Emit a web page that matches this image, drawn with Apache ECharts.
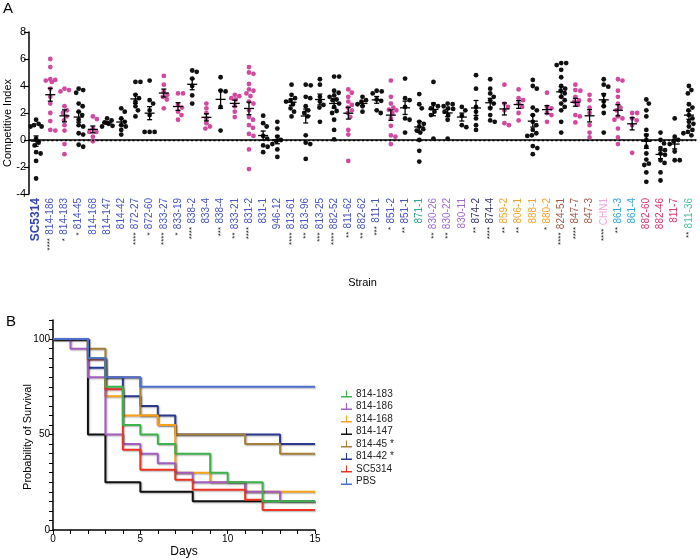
<!DOCTYPE html>
<html>
<head>
<meta charset="utf-8">
<script src="https://cdn.jsdelivr.net/npm/echarts@6/dist/echarts.min.js"></script>
<style>html,body{margin:0;padding:0;background:#fff}#c{width:700px;height:560px}</style>
</head>
<body>
<div id="c"></div>
<script>
// ---------- Panel A data ----------
const categories = ['SC5314','814-186','814-183','814-45','814-168','814-147','814-42','872-27','872-60','833-27','833-19','838-2','833-4','838-4','833-21','831-2','831-1','946-12','813-61','813-96','813-25','882-52','811-62','882-62','811-1','851-2','851-1','871-1','830-26','830-22','830-11','874-2','874-4','859-2','806-1','888-1','880-2','824-51','847-7','847-3','CHN1','861-3','861-4','882-60','882-46','811-7','811-36'];
const significance = ['','****','*','*','','','','****','*','****','*','****','','***','**','****','','','****','**','***','****','**','**','***','*','**','','**','**','','**','****','**','**','','*','****','****','','****','**','','','','','**'];
const labelGroup = ['ref','g1','g1','g1','g1','g1','g1','g1','g1','g1','g1','g1','g1','g1','g1','g1','g1','g1','g1','g1','g1','g1','g1','g1','g1','g1','g1','g2','g3','g3','g3','g4','g4','g5','g5','g5','g5','g6','g6','g6','g7','g8','g8','g9','g9','g9','g10'];
const dotGroup = ['k','m','m','k','m','k','k','k','k','m','m','k','m','k','m','m','k','k','k','k','k','k','m','k','k','m','k','k','k','k','k','k','k','m','m','k','m','k','m','m','k','m','m','k','k','k','k'];
const ciValues = [
 [1.5,1.2,1.1,1.0,1.0,0.1,-0.2,-0.4,-0.9,-1.0,-1.55,-2.85],
 [6.0,5.4,4.5,4.45,4.4,4.3,3.8,3.2,2.7,2.0,1.4,0.75,0.7],
 [3.8,3.7,3.6,2.5,2.2,2.0,1.75,1.45,1.1,0.7,-0.3,-1.05],
 [3.8,3.7,3.5,2.7,2.5,2.1,1.85,1.5,1.1,1.0,0.5,0.4,-0.35,-0.5],
 [1.75,1.55,0.85,0.6,0.6,0.25,-0.1],
 [1.6,1.45,1.3,1.2,1.05,1.0],
 [2.35,2.1,1.6,1.35,1.1,1.0,0.75,0.4],
 [4.3,4.3,3.35,3.1,2.85,2.5,2.2,1.75],
 [4.4,2.95,2.7,2.2,1.85,0.6,0.6,0.6],
 [4.75,4.1,3.6,3.35,3.2,3.0,2.35],
 [3.45,3.45,2.6,2.4,2.1,1.85,1.5],
 [5.15,5.05,4.55,4.0,3.3,2.7],
 [2.7,2.35,2.0,1.6,1.25,1.0,0.85],
 [4.65,3.65,3.6,2.45,0.7],
 [3.35,3.25,3.1,3.0,2.5,2.1,1.7],
 [5.4,5.0,4.9,4.15,3.75,3.65,3.45,3.25,2.85,2.7,2.2,1.7,1.5,1.1,0.9,0.45,0.3,-0.7,-2.15],
 [1.8,1.25,1.0,0.3,0.1,-0.4,-0.5,-0.9],
 [1.35,0.85,0.25,0.0,-0.1,-0.3,-0.7,-1.25],
 [4.1,3.35,3.1,2.95,2.85,2.65,2.35,2.1,1.75],
 [4.1,4.05,3.2,3.1,2.5,2.2,2.0,1.75,0.35,-0.2,-0.3,-1.4],
 [4.5,4.1,3.2,2.85,2.6,2.4,1.35],
 [4.7,4.7,3.65,3.5,3.3,3.2,3.0,2.95,2.7,2.45,2.15,2.0,1.5,0.75,0.05],
 [3.75,3.5,3.2,2.85,2.6,2.4,2.2,2.0,1.7,0.75,0.4,-1.55],
 [3.2,2.95,2.85,2.65,2.5,2.1],
 [3.65,3.6,3.45,3.0,2.9,2.2,2.0],
 [4.4,3.2,2.7,2.4,2.25,2.2,2.0,1.6,1.05,0.35,0.25,-0.3],
 [4.55,3.1,2.95,2.45,1.6,1.5,0.55],
 [3.4,2.65,2.35,1.35,1.2,1.0,0.8,0.7,0.55,0.0,-0.8,-1.6],
 [4.3,2.65,2.5,2.35,2.1,1.85,0.1],
 [2.7,2.65,2.5,2.35,2.3,2.1,1.85,1.5,0.1],
 [2.45,2.2,1.8,1.1,0.95],
 [4.8,3.8,2.45,2.1,1.6,1.1,0.75],
 [4.5,3.8,3.45,3.2,2.95,2.7,2.35,1.85,1.45,1.35],
 [4.1,2.7,2.45,2.2,1.25,1.1],
 [3.75,3.1,2.95,2.7,2.45,2.0,1.45],
 [4.45,4.0,3.8,2.4,2.2,1.85,1.35,1.1,0.75,0.5,0.35,0.3,-0.45,-0.6,-1.05],
 [3.5,2.45,2.35,2.0,1.85,1.35],
 [5.7,5.7,5.55,5.2,4.65,4.0,3.8,3.65,3.45,3.2,2.95,2.7,2.45,2.2,1.35,0.55],
 [4.1,3.7,3.65,3.2,2.95,2.85,2.6,1.85,1.75,1.3],
 [3.35,2.95,2.4,2.0,1.1,0.55,0.2],
 [4.5,4.1,3.95,3.35,2.85,2.5,2.0,0.55],
 [4.5,4.4,3.65,3.2,2.7,2.4,2.2,1.75,1.6,1.5,0.85,0.2,-0.3],
 [2.0,2.0,1.6,1.45,1.1,-0.95],
 [3.0,2.7,2.2,1.75,0.75,0.35,0.0,-0.5,-1.0,-1.45,-1.75,-1.85,-2.4,-3.1],
 [0.55,0.0,-0.25,-0.6,-0.75,-1.0,-1.1,-1.5,-1.7,-2.4,-3.0],
 [1.6,0.25,0.0,-0.1,-0.3,-0.85,-1.5,-1.5],
 [4.0,3.7,3.45,2.65,2.4,2.2,1.85,1.6,1.35,1.2,1.0,0.75,0.6,0.5,0.35]
];
const yTicksA = {min: -4, max: 8, interval: 2};

// ---------- Panel B data ----------
const days = [0,1,2,3,4,5,6,7,8,9,10,11,12,13,14,15];
const survNames = ['814-183','814-186','814-168','814-147','814-45 *','814-42 *','SC5314','PBS'];
const surv_814_183 = [100,100,90,75,55,50,45,40,40,30,25,25,15,15,15,15];
const surv_814_186 = [100,95,80,50,45,40,35,30,25,25,25,20,20,15,15,15];
const surv_814_168 = [100,100,90,70,60,60,55,30,30,25,25,20,20,20,20,20];
const surv_814_147 = [100,100,50,25,25,20,20,20,15,15,15,15,15,15,15,15];
const surv_814_45  = [100,100,95,80,80,60,55,50,50,50,50,45,45,40,40,40];
const surv_814_42  = [100,100,85,80,70,65,60,50,50,50,50,50,50,45,45,45];
const surv_SC5314  = [100,100,89.5,73.7,42.1,31.6,31.6,26.3,21.1,21.1,21.1,15.8,10.5,10.5,10.5,10.5];
const surv_PBS     = [100,100,90,80,80,75,75,75,75,75,75,75,75,75,75,75];

// ---------- styles ----------
const FONT = 'Liberation Sans, Arial, sans-serif';
const dotColor = {k: '#111111', m: '#d14aa0'};
const labelStyle = {
  ref: {fontSize: 12, fontWeight: 'bold', color: '#3343b3'},
  g1: {color: '#4654c4'}, g2: {color: '#2fa597'}, g3: {color: '#9b6bd0'},
  g4: {color: '#35356e'}, g5: {color: '#f2a42a'}, g6: {color: '#a35a4a'},
  g7: {color: '#f2a8d8'}, g8: {color: '#2ea4e2'}, g9: {color: '#e2336b'},
  g10: {color: '#4cc2a2'}
};
const survColors = {
  '814-183': '#3cb44b', '814-186': '#a45dc0', '814-168': '#f7a11a', '814-147': '#111111',
  '814-45 *': '#a5803a', '814-42 *': '#2b3990', 'SC5314': '#ee3524', 'PBS': '#4f6fcf'
};
const survData = {
  '814-183': surv_814_183, '814-186': surv_814_186, '814-168': surv_814_168, '814-147': surv_814_147,
  '814-45 *': surv_814_45, '814-42 *': surv_814_42, 'SC5314': surv_SC5314, 'PBS': surv_PBS
};
const drawOrder = ['814-147','814-42 *','814-45 *','814-168','814-186','SC5314','814-183','PBS'];

function mean(a){ return a.reduce((s,v)=>s+v,0)/a.length; }
function sem(a){ const m = mean(a); const v = a.reduce((s,x)=>s+(x-m)*(x-m),0)/(a.length-1); return Math.sqrt(v/a.length); }

// simple beeswarm layout in pixel space, limited half-width
function swarm(pts, d, maxOff){
  const order = pts.map((p,i)=>i).sort((a,b)=>pts[a][1]-pts[b][1]);
  const placed = [];
  const out = new Array(pts.length);
  const offs = [0];
  for (let s = 0.5; s <= maxOff + 1e-9; s += 0.5) { offs.push(s, -s); }
  order.forEach(i => {
    const cx = pts[i][0], cy = pts[i][1];
    let chosen = null, best = -1, bestX = cx;
    for (const off of offs) {
      const x = cx + off;
      let minD = Infinity;
      placed.forEach(q => { const dd = Math.hypot(q[0]-x, q[1]-cy); if (dd < minD) minD = dd; });
      if (minD >= d) { chosen = x; break; }
      if (minD > best + 0.3) { best = minD; bestX = x; }
    }
    if (chosen === null) chosen = bestX;
    placed.push([chosen, cy]);
    out[i] = [chosen, cy];
  });
  return out;
}

const rich = {s: {fontSize: 8, color: '#222', fontFamily: FONT}};
Object.keys(labelStyle).forEach(k => { rich[k] = Object.assign({fontSize: 10, fontFamily: FONT}, labelStyle[k]); });

const chart = echarts.init(document.getElementById('c'), null, {renderer: 'canvas'});
const axisLineStyle = {color: '#000', width: 1.5};

const option = {
  animation: false,
  backgroundColor: '#fff',
  textStyle: {fontFamily: FONT},
  grid: [
    {left: 29, right: 4, top: 32, bottom: 366, containLabel: false, outerBoundsMode: 'none'},
    {left: 53, right: 385, top: 320, bottom: 30, containLabel: false, outerBoundsMode: 'none'}
  ],
  xAxis: [
    {
      type: 'category', gridIndex: 0, data: categories,
      name: 'Strain', nameLocation: 'middle', nameGap: 83,
      nameTextStyle: {fontSize: 11, color: '#000', fontFamily: FONT},
      axisLine: {lineStyle: axisLineStyle},
      axisTick: {alignWithLabel: true, length: 5, lineStyle: {color: '#000', width: 1.2}},
      axisLabel: {
        interval: 0, rotate: 90, margin: 4, rich: rich,
        formatter: (val, idx) => (significance[idx] ? '{s|' + significance[idx] + '} ' : '') + '{' + labelGroup[idx] + '|' + val + '}'
      },
      splitLine: {show: false}
    },
    {
      type: 'value', gridIndex: 1, min: 0, max: 15, interval: 1,
      name: 'Days', nameLocation: 'middle', nameGap: 16,
      nameTextStyle: {fontSize: 12, color: '#000', fontFamily: FONT},
      axisLine: {lineStyle: axisLineStyle},
      axisTick: {length: 4, lineStyle: {color: '#000', width: 1}},
      axisLabel: {fontSize: 10, color: '#000', margin: 4, formatter: v => (v % 5 === 0 ? String(v) : '')},
      splitLine: {show: false}
    }
  ],
  yAxis: [
    {
      type: 'value', gridIndex: 0, min: yTicksA.min, max: yTicksA.max, interval: yTicksA.interval,
      axisLine: {show: true, lineStyle: axisLineStyle},
      axisTick: {show: true, length: 5, lineStyle: {color: '#000', width: 1.2}},
      axisLabel: {fontSize: 11, color: '#000', margin: 3},
      splitLine: {show: false}
    },
    {
      type: 'value', gridIndex: 1, min: 0, max: 110, interval: 5,
      axisLine: {show: true, lineStyle: axisLineStyle},
      axisTick: {show: true, length: 4, lineStyle: {color: '#000', width: 1}},
      axisLabel: {fontSize: 10, color: '#000', margin: 3, formatter: v => (v % 50 === 0 && v <= 100 ? String(v) : '')},
      splitLine: {show: false}
    }
  ],
  legend: {
    orient: 'vertical', left: 336, top: 384,
    itemWidth: 11, itemHeight: 7, itemGap: 2.5,
    icon: 'path://M0,9 L12,9 L12,10.4 L0,10.4 Z M5.4,3 L6.6,3 L6.6,9 L5.4,9 Z',
    textStyle: {fontSize: 10, color: '#222', fontFamily: FONT, padding: [0,0,0,-1]},
    data: survNames
  },
  graphic: [
    {type: 'text', left: 3, top: 1, style: {text: 'A', fontSize: 15, fill: '#000', fontFamily: FONT}},
    {type: 'text', left: 6, top: 314, style: {text: 'B', fontSize: 15, fill: '#000', fontFamily: FONT}},
    {type: 'text', x: 8, y: 123, rotation: Math.PI / 2, style: {text: 'Competitive Index', fontSize: 11, fill: '#000', fontFamily: FONT, align: 'center', verticalAlign: 'middle'}},
    {type: 'text', x: 28, y: 437, rotation: Math.PI / 2, style: {text: 'Probability of Survival', fontSize: 11, fill: '#000', fontFamily: FONT, align: 'center', verticalAlign: 'middle'}}
  ],
  series: [
    {
      type: 'custom', name: 'dots', xAxisIndex: 0, yAxisIndex: 0,
      data: categories.map((c, i) => [i, mean(ciValues[i])]),
      encode: {x: 0, y: 1},
      renderItem: (params, api) => {
        const i = params.dataIndex;
        const pts = ciValues[i].map(v => api.coord([i, v]));
        const pos = swarm(pts, 4.6, 5.5);
        return {type: 'group', children: pos.map(p => ({type: 'circle', shape: {cx: p[0], cy: p[1], r: 2.4}, style: {fill: dotColor[dotGroup[i]]}}))};
      },
      markLine: {
        silent: true, symbol: 'none', label: {show: false},
        lineStyle: {type: [2, 2.5], color: '#000', width: 1.4},
        data: [{yAxis: 0}]
      },
      z: 2
    },
    {
      type: 'custom', name: 'meanSem', xAxisIndex: 0, yAxisIndex: 0,
      data: categories.map((c, i) => [i, mean(ciValues[i])]),
      encode: {x: 0, y: 1},
      renderItem: (params, api) => {
        const i = params.dataIndex;
        const m = mean(ciValues[i]), s = sem(ciValues[i]);
        const c = api.coord([i, m]), t = api.coord([i, m + s]), b = api.coord([i, m - s]);
        const st = {stroke: '#000', lineWidth: 1.3};
        return {type: 'group', children: [
          {type: 'line', shape: {x1: c[0]-5, y1: c[1], x2: c[0]+5, y2: c[1]}, style: st},
          {type: 'line', shape: {x1: t[0], y1: t[1], x2: b[0], y2: b[1]}, style: st},
          {type: 'line', shape: {x1: t[0]-2.5, y1: t[1], x2: t[0]+2.5, y2: t[1]}, style: st},
          {type: 'line', shape: {x1: b[0]-2.5, y1: b[1], x2: b[0]+2.5, y2: b[1]}, style: st}
        ]};
      },
      z: 3
    }
  ].concat(drawOrder.map((name, k) => ({
    type: 'line', name: name, xAxisIndex: 1, yAxisIndex: 1,
    step: 'end', showSymbol: false, symbol: 'none',
    data: days.map((d, j) => [d, survData[name][j]]),
    itemStyle: {color: survColors[name]},
    lineStyle: {color: survColors[name], width: 2, shadowColor: 'rgba(0,0,0,0.3)', shadowBlur: 1.5, shadowOffsetX: 1, shadowOffsetY: 1},
    z: 2 + k * 0.01
  })))
};
chart.setOption(option);
</script>
</body>
</html>
